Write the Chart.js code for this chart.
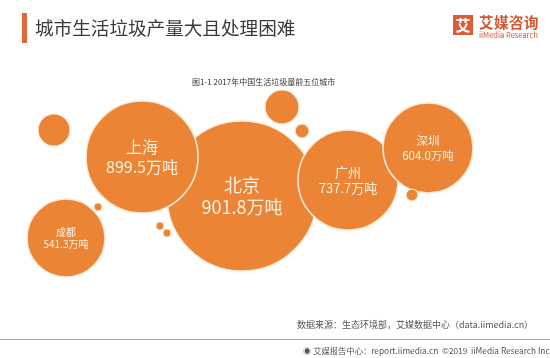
<!DOCTYPE html>
<html>
<head>
<meta charset="utf-8">
<script src="https://cdn.jsdelivr.net/npm/chart.js@4"></script>
<style>
  html, body { margin:0; padding:0; background:#fff; }
  #wrap { position:relative; width:550px; height:358px; overflow:hidden; font-family:"Noto Sans CJK SC","Noto Sans",sans-serif; }
  canvas { position:absolute; left:0; top:0; }
  .abs { position:absolute; white-space:nowrap; }
  #bar { left:22px; top:13px; width:5px; height:30px; background:#E2683C; }
  #title { left:35px; top:14px; font-size:18.6px; line-height:26px; color:#3a3a3a; }
  #logoBox { left:453px; top:15px; width:20px; height:20px; background:#DE5B38; color:#fff; font-size:15px; line-height:20px; text-align:center; font-weight:bold; }
  #logoCn { left:479px; top:13px; font-size:14.5px; line-height:18px; color:#D9552F; font-weight:bold; letter-spacing:0.5px; }
  #logoEn { left:479px; top:30px; font-size:7.5px; line-height:9px; color:#D9552F; }
  #sub { left:192px; top:76px; font-size:8px; line-height:12px; color:#333; }
  #src { left:297px; top:319px; font-size:9px; line-height:12px; color:#555; }
  #hr { left:0; top:339px; width:550px; height:1px; background:#a8a8a8; }
  #foot { left:303px; top:344px; font-size:8.3px; line-height:12px; color:#555; }
</style>
</head>
<body>
<div id="wrap">
  <canvas id="c" width="550" height="358"></canvas>
  <div class="abs" id="bar"></div>
  <div class="abs" id="title">城市生活垃圾产量大且处理困难</div>
  <div class="abs" id="logoBox">艾</div>
  <div class="abs" id="logoCn">艾媒咨询</div>
  <div class="abs" id="logoEn">iiMedia Research</div>
  <div class="abs" id="sub">图1-1 2017年中国生活垃圾量前五位城市</div>
  <div class="abs" id="src">数据来源：生态环境部，艾媒数据中心（data.iimedia.cn）</div>
  <div class="abs" id="hr"></div>
  <div class="abs" id="foot">&#9673; 艾媒报告中心：report.iimedia.cn &nbsp;©2019 &nbsp;iiMedia Research Inc</div>
</div>
<script>
// data
const cities = ['北京', '上海', '广州', '深圳', '成都'];
const values = [901.8, 899.5, 737.7, 604.0, 541.3];
const unit = '万吨';

// bubble layout (infographic placement, in chart units)
const layoutX = [242, 142, 348, 428, 66];
const layoutY = [196, 157, 180, 148, 238];
const layoutR = [75, 56, 50, 45, 39];
const labelSize = [18, 16, 13, 11.5, 10];

// decorative small bubbles
const decoX = [54, 282, 302, 160, 167, 98, 412];
const decoY = [130, 107, 131, 226, 233, 207, 195];
const decoR = [16, 17, 7, 4, 4, 4, 6];

const fill = '#EB8434';
const edge = '#FBEBDB';

const mainData = cities.map((c, i) => ({ x: layoutX[i], y: layoutY[i], r: layoutR[i] }));
const decoData = decoX.map((x, i) => ({ x: x, y: decoY[i], r: decoR[i] }));

const labelPlugin = {
  id: 'bubbleLabels',
  afterDatasetsDraw(chart) {
    const ctx = chart.ctx;
    const xs = chart.scales.x, ys = chart.scales.y;
    ctx.save();
    ctx.fillStyle = '#FFF2E4';
    ctx.textAlign = 'center';
    ctx.textBaseline = 'middle';
    cities.forEach((c, i) => {
      const px = xs.getPixelForValue(layoutX[i]);
      const py = ys.getPixelForValue(layoutY[i]);
      const fs = labelSize[i];
      ctx.font = fs + 'px "Noto Sans CJK SC", "Noto Sans", sans-serif';
      ctx.fillText(c, px, py - fs * 0.6);
      ctx.fillText(values[i].toFixed(1) + unit, px, py + fs * 0.62);
    });
    ctx.restore();
  }
};

new Chart(document.getElementById('c'), {
  type: 'bubble',
  data: {
    datasets: [
      { label: 'deco', data: decoData, backgroundColor: fill, borderColor: edge, borderWidth: 1.2, hoverRadius: 0, hoverBorderWidth: 1.2, clip: false },
      { label: 'cities', data: mainData, backgroundColor: fill, borderColor: edge, borderWidth: 1.5, hoverRadius: 0, hoverBorderWidth: 1.5, clip: false }
    ]
  },
  options: {
    responsive: false,
    animation: false,
    events: [],
    layout: { padding: 0, autoPadding: false },
    plugins: { legend: { display: false }, tooltip: { enabled: false } },
    scales: {
      x: { type: 'linear', min: 0, max: 550, display: false },
      y: { type: 'linear', min: 0, max: 358, reverse: true, display: false }
    }
  },
  plugins: [labelPlugin]
});
</script>
</body>
</html>
